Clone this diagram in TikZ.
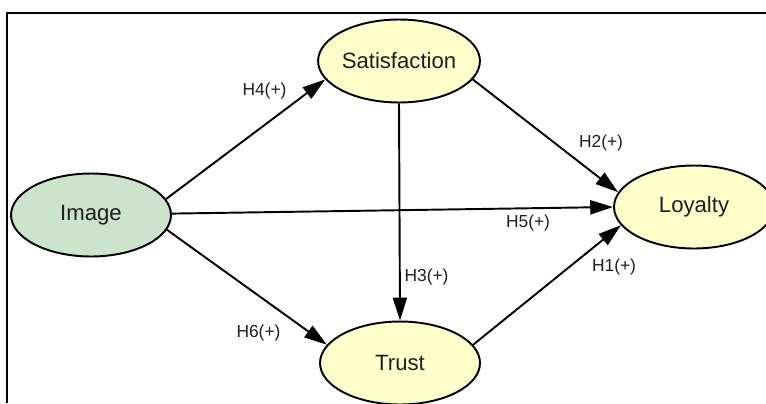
\documentclass[tikz,border=0pt]{standalone}
\usepackage{fontspec}
\setmainfont{Liberation Sans}
\usetikzlibrary{shapes.geometric,arrows.meta}
\definecolor{greenfill}{RGB}{204,227,204}
\definecolor{yellowfill}{RGB}{255,255,204}
\definecolor{txt}{RGB}{30,30,30}
\begin{document}
\begin{tikzpicture}[x=0.02cm,y=-0.02cm,
  construct/.style={ellipse,draw=black,line width=1.1pt,inner sep=0pt,
     minimum width=3.2cm,minimum height=1.66cm,font=\fontsize{12.6}{14}\selectfont,text=txt},
  hyp/.style={font=\fontsize{9.9}{11}\selectfont,text=txt,inner sep=0pt},
  path/.style={draw=black,line width=1.1pt,-{Triangle[length=13pt,width=8pt]}}]
\useasboundingbox (0,0) rectangle (766,403);
\coordinate (fbl) at (7,403);
\coordinate (ftl) at (7,13);
\coordinate (ftr) at (766,13);
\draw[line width=1.4pt] (fbl) -- (ftl) -- (ftr);
\node[construct,fill=greenfill] (img) at (91,215) {Image};
\node[construct,fill=yellowfill] (sat) at (399,61) {Satisfaction};
\node[construct,fill=yellowfill] (loy) at (694,207) {Loyalty};
\node[construct,fill=yellowfill] (tru) at (400,363) {Trust};
\draw[path] (img.12) -- (sat.194);
\draw[path] (img.1) -- (loy.180);
\draw[path] (img.-11) -- (tru.166);
\draw[path] (sat.-14) -- (loy.169);
\draw[path] (sat.south) -- (tru.north);
\draw[path] (tru.14) -- (loy.194);
\node[hyp] (h4) at (264.5,90.5) {H4(+)};
\node[hyp] (h2) at (601,143) {H2(+)};
\node[hyp] (h5) at (528,223) {H5(+)};
\node[hyp] (h3) at (426.5,276.5) {H3(+)};
\node[hyp] (h1) at (614,266.5) {H1(+)};
\node[hyp] (h6) at (258.5,332.5) {H6(+)};
\end{tikzpicture}
\end{document}
